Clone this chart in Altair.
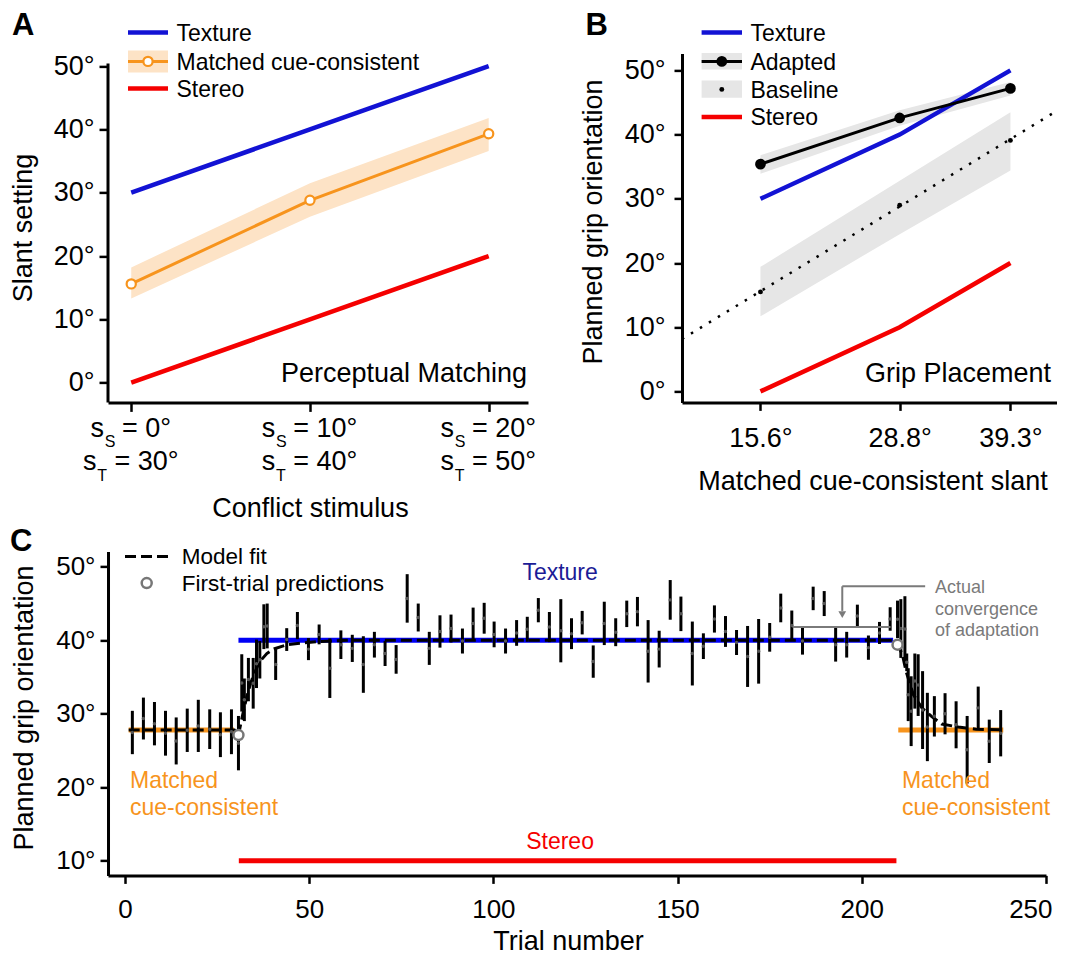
import altair as alt
import pandas as pd

FONT = "Liberation Sans"
BLUE = "#1212d4"
BLUE_C = "#0000f5"
RED = "#f50000"
ORANGE = "#f7941d"
ORANGE_BAND = "#fde3c6"
GRAY_BAND = "#e6e6e6"
NAVY = "#1c1c96"
ANNOT_GRAY = "#7a7a7a"

# ---------------- Panel A data ----------------
A_stereo = [0, 10, 20]
A_texture = [30, 40, 50]
A_matched = [15.6, 28.8, 39.3]
A_matched_lo = [13.3, 26.2, 36.6]
A_matched_hi = [18.2, 31.5, 41.8]
A_yticks = [0, 10, 20, 30, 40, 50]

# ---------------- Panel B data ----------------
B_slant = [15.6, 28.8, 39.3]
B_texture = [30, 40, 50]
B_stereo = [0, 10, 20]
B_adapted = [35.4, 42.6, 47.2]
B_adapted_lo = [33.9, 41.4, 46.1]
B_adapted_hi = [36.8, 43.8, 48.2]
B_baseline = [15.5, 29.0, 39.1]
B_baseline_lo = [11.7, 24.5, 34.4]
B_baseline_hi = [19.4, 32.8, 43.5]
B_identity = [8.16, 44.4]
B_yticks = [0, 10, 20, 30, 40, 50]

# ---------------- Panel C data ----------------
C_trial = [2.0, 5.0, 8.0, 11.0, 13.9, 16.9, 19.9, 23.0, 25.9, 28.9,
           30.8, 31.7, 32.4, 33.5, 34.8, 35.7, 36.6, 37.7, 38.6, 40.9,
           43.9, 46.8, 49.8, 52.7, 55.6, 58.6, 61.7, 64.7, 67.7, 70.6,
           73.6, 76.6, 79.6, 82.6, 85.5, 88.5, 91.6, 94.5, 97.5, 100.2,
           103.3, 106.3, 109.2, 112.2, 115.2, 118.3, 121.2, 124.1, 127.1, 130.1,
           133.2, 136.2, 139.1, 142.0, 145.0, 148.0, 150.9, 154.0, 157.0, 160.0,
           163.0, 166.0, 169.0, 172.0, 175.0, 178.0, 181.0, 183.9, 186.8, 189.8,
           192.9, 195.9, 198.8, 201.8, 204.8, 207.7,
           209.7, 210.6, 211.7, 212.2, 212.6, 213.4, 214.4, 215.3, 216.5, 217.8,
           219.7, 222.6, 225.6, 228.6, 231.6, 234.6, 237.7]
C_mean = [27.45, 29.35, 28.65, 27.35, 26.3, 27.75, 28.35, 27.9, 27.15, 27.55,
          26.0, 34.2, 31.9, 34.65, 34.15, 36.8, 37.35, 41.85, 41.95, 36.7,
          40.1, 42.0, 38.8, 40.8, 36.2, 39.4, 38.9, 36.7, 39.4, 38.2,
          37.4, 45.7, 43.1, 38.9, 41.2, 41.6, 39.9, 42.3, 43.0, 40.8,
          39.9, 41.0, 41.5, 44.1, 41.8, 41.3, 40.9, 42.4, 37.1, 42.3,
          41.1, 43.6, 43.9, 38.5, 38.8, 45.5, 43.6, 38.2, 39.2, 42.9,
          41.2, 39.7, 37.8, 38.5, 40.4, 44.4, 42.0, 39.9, 45.7, 45.0,
          39.4, 39.4, 43.3, 39.0, 41.0, 42.9,
          42.85, 41.6, 41.55, 37.0, 32.6, 30.35, 34.45, 33.9, 30.5, 28.2,
          29.65, 30.0, 28.5, 25.1, 30.8, 26.25, 27.35]
C_err = [2.95, 2.85, 2.95, 3.05, 3.2, 2.95, 3.55, 2.7, 3.05, 3.05,
         3.7, 3.9, 2.9, 2.95, 3.45, 3.3, 2.55, 3.05, 3.05, 2.1,
         1.55, 1.85, 1.5, 1.35, 4.05, 1.95, 1.85, 3.85, 1.75, 1.7,
         1.95, 3.3, 1.9, 2.25, 2.2, 1.9, 1.7, 2.15, 2.1, 1.75,
         1.7, 1.75, 1.7, 1.65, 2.05, 4.3, 2.1, 1.6, 2.2, 2.95,
         1.9, 1.8, 2.0, 4.25, 2.5, 2.7, 2.35, 4.35, 1.75, 1.85,
         2.1, 1.7, 4.15, 4.4, 1.95, 1.95, 2.05, 1.85, 1.6, 1.7,
         2.3, 1.75, 1.55, 1.65, 1.5, 1.6,
         2.55, 4.0, 4.45, 1.2, 3.6, 4.75, 3.75, 4.2, 5.3, 4.65,
         2.75, 2.8, 3.2, 4.6, 2.9, 2.95, 3.15]
C_fit_trial = [1.0, 29.7, 30.8, 32.0, 33.0, 34.0, 35.0, 36.6, 38.5, 40.3,
               44.0, 47.4, 52.0, 60.0, 208.5, 209.7, 211.0, 212.0, 214.0, 216.3,
               219.0, 221.7, 226.2, 231.0, 238.4]
C_fit_value = [27.8, 27.8, 27.1, 30.0, 32.2, 34.0, 35.4, 37.1, 38.2, 38.8,
               39.4, 39.6, 39.8, 40.0, 40.0, 39.4, 38.1, 35.8, 32.6, 30.8,
               29.6, 28.6, 28.2, 27.9, 27.8]
C_pred_trial = [30.8, 209.7]
C_pred_value = [27.1, 39.4]
C_cue = ["Matched cue-consistent", "Texture", "Stereo", "Matched cue-consistent"]
C_cue_start = [1.0, 30.8, 30.9, 209.9]
C_cue_end = [29.6, 208.5, 209.4, 238.4]
C_cue_value = [27.8, 40.0, 10.0, 27.8]
C_xticks = [0, 50, 100, 150, 200, 250]
C_yticks = [10, 20, 30, 40, 50]

one = pd.DataFrame({"k": [0]})


def ptext(txt, x, y, size, color="black", align="left", weight="normal",
          baseline="alphabetic"):
    return alt.Chart(one).mark_text(
        text=txt, align=align, baseline=baseline, fontSize=size, color=color,
        font=FONT, fontWeight=weight
    ).encode(x=alt.value(x), y=alt.value(y))


def prule(x1, x2, y, color, width, dash=None):
    kw = dict(color=color, strokeWidth=width)
    if dash:
        kw["strokeDash"] = dash
    return alt.Chart(one).mark_rule(**kw).encode(
        x=alt.value(x1), x2=alt.value(x2), y=alt.value(y))


def prect(x1, x2, y1, y2, color):
    return alt.Chart(one).mark_rect(color=color).encode(
        x=alt.value(x1), x2=alt.value(x2), y=alt.value(y1), y2=alt.value(y2))


def ppoint(x, y, size, fill, stroke, sw):
    return alt.Chart(one).mark_point(
        shape="circle", size=size, filled=True, fill=fill, stroke=stroke,
        strokeWidth=sw, opacity=1
    ).encode(x=alt.value(x), y=alt.value(y))


# ====================== Panel A ======================
WA, HA = 420, 349
dfA = pd.DataFrame({"stereo": A_stereo, "texture": A_texture,
                    "matched": A_matched, "lo": A_matched_lo, "hi": A_matched_hi})
xA_scale = alt.Scale(domain=[-1.3, 22.2], nice=False, zero=False)
xA_axis = alt.Axis(values=A_stereo, labels=False, tickSize=9, tickWidth=2.5,
                   domainWidth=3, title="Conflict stimulus", titleX=201.9, titleY=93.4)
yA_scale = alt.Scale(domain=[-3.11, 52.0], nice=False, zero=False)
yA_axis = alt.Axis(values=A_yticks, labelExpr="datum.value + '°'", domain=False,
                   tickSize=9, tickWidth=2.5, labelPadding=5, title="Slant setting",
                   titleX=-70.8, titleY=174)


def XA(f):
    return alt.X(f"{f}:Q", scale=xA_scale, axis=xA_axis)


def YA(f):
    return alt.Y(f"{f}:Q", scale=yA_scale, axis=yA_axis)


bA = alt.Chart(dfA)
A_layers = [
    bA.mark_area(color=ORANGE_BAND).encode(x=XA("stereo"), y=YA("lo"), y2="hi:Q"),
    bA.mark_line(color=BLUE, strokeWidth=4.5).encode(x=XA("stereo"), y=YA("texture")),
    bA.mark_line(color=RED, strokeWidth=4.5).encode(x=XA("stereo"), y=YA("stereo")),
    bA.mark_line(color=ORANGE, strokeWidth=3).encode(x=XA("stereo"), y=YA("matched")),
    bA.mark_point(shape="circle", size=85, filled=True, fill="white", stroke=ORANGE,
                  strokeWidth=2.2, opacity=1).encode(x=XA("stereo"), y=YA("matched")),
    alt.Chart(one).mark_rule(color="black", strokeWidth=3).encode(
        x=alt.value(0), y=alt.value(10), y2=alt.value(HA)),
]
# custom two-line tick labels with subscripts
for s_val, t_val in zip(A_stereo, A_texture):
    for val, sub, base_y, sub_y in [(s_val, "S", 384, 394), (t_val, "T", 417, 427.5)]:
        n = len(str(val))
        x0 = -48.3 + (2 - n) * 7.5
        f = bA.transform_filter(alt.datum.stereo == s_val)
        A_layers.append(f.mark_text(text="s", dx=x0, align="left", fontSize=27, font=FONT,
                                    baseline="alphabetic", color="black").encode(
            x=XA("stereo"), y=alt.value(base_y)))
        A_layers.append(f.mark_text(text=sub, dx=x0 + 14.3, align="left", fontSize=16, font=FONT,
                                    baseline="alphabetic", color="black").encode(
            x=XA("stereo"), y=alt.value(sub_y)))
        A_layers.append(f.mark_text(text=f"= {val}°", dx=x0 + 31.6, align="left", fontSize=27,
                                    font=FONT, baseline="alphabetic", color="black").encode(
            x=XA("stereo"), y=alt.value(base_y)))
# legend A
A_layers += [
    prule(20, 60, -21, BLUE, 4.5),
    ptext("Texture", 68.5, -12.8, 23),
    prect(20, 60, -3, 19, ORANGE_BAND),
    prule(20, 60, 8, ORANGE, 3),
    ppoint(40, 8, 85, "white", ORANGE, 2.2),
    ptext("Matched cue-consistent", 68.5, 16.2, 23),
    prule(20, 60, 35, RED, 4.5),
    ptext("Stereo", 68.5, 43.2, 23),
    ptext("Perceptual Matching", 419, 329, 27, align="right"),
    ptext("A", -96, -18, 31, weight="bold"),
]
chartA = alt.layer(*A_layers).properties(width=WA, height=HA)

# ====================== Panel B ======================
WB, HB = 378, 349
dfB = pd.DataFrame({"slant": B_slant, "texture": B_texture, "stereo": B_stereo,
                    "adapted": B_adapted, "alo": B_adapted_lo, "ahi": B_adapted_hi,
                    "baseline": B_baseline, "blo": B_baseline_lo, "bhi": B_baseline_hi})
dfI = pd.DataFrame({"v": B_identity})
xB_scale = alt.Scale(domain=[8.16, 44.0], nice=False, zero=False)
xB_axis = alt.Axis(values=B_slant, labelExpr="format(datum.value, '.1f') + '°'",
                   tickSize=8, tickWidth=2.5, domainWidth=3, labelPadding=15,
                   title="Matched cue-consistent slant", titleX=190.5, titleY=66)
yB_scale = alt.Scale(domain=[-1.71, 52.65], nice=False, zero=False)
yB_axis = alt.Axis(values=B_yticks, labelExpr="datum.value + '°'", tickSize=8,
                   tickWidth=2.5, domainWidth=3, labelPadding=9,
                   title="Planned grip orientation", titleX=-74.6, titleY=168)


def XB(f):
    return alt.X(f"{f}:Q", scale=xB_scale, axis=xB_axis)


def YB(f):
    return alt.Y(f"{f}:Q", scale=yB_scale, axis=yB_axis)


bB = alt.Chart(dfB)
B_layers = [
    bB.mark_area(color=GRAY_BAND).encode(x=XB("slant"), y=YB("blo"), y2="bhi:Q"),
    bB.mark_area(color=GRAY_BAND).encode(x=XB("slant"), y=YB("alo"), y2="ahi:Q"),
    alt.Chart(dfI).mark_line(color="black", strokeWidth=2.5, strokeDash=[2.5, 8]).encode(
        x=XB("v"), y=YB("v")),
    bB.mark_line(color=BLUE, strokeWidth=4.5).encode(x=XB("slant"), y=YB("texture")),
    bB.mark_line(color=RED, strokeWidth=4.5).encode(x=XB("slant"), y=YB("stereo")),
    bB.mark_line(color="black", strokeWidth=3).encode(x=XB("slant"), y=YB("adapted")),
    bB.mark_point(shape="circle", size=115, filled=True, color="black", opacity=1).encode(
        x=XB("slant"), y=YB("adapted")),
    bB.mark_point(shape="circle", size=24, filled=True, color="black", opacity=1).encode(
        x=XB("slant"), y=YB("baseline")),
    # legend B
    prule(19.6, 60, -21, BLUE, 4.5),
    ptext("Texture", 68.4, -12.8, 23),
    prect(19.6, 60, -0.3, 16, GRAY_BAND),
    prule(19.6, 60, 8, "black", 3),
    ppoint(39.8, 8, 115, "black", "black", 0),
    ptext("Adapted", 68.4, 16.2, 23),
    prect(19.6, 60, 27, 44.3, GRAY_BAND),
    ppoint(39.8, 36, 24, "black", "black", 0),
    ptext("Baseline", 68.4, 44.2, 23),
    prule(19.6, 60, 63.7, RED, 4.5),
    ptext("Stereo", 68.4, 71.9, 23),
    ptext("Grip Placement", 369, 328.7, 27, align="right"),
    ptext("B", -96.6, -18, 31, weight="bold"),
]
chartB = alt.layer(*B_layers).properties(width=WB, height=HB)

# ====================== Panel C ======================
WC, HC = 938, 324
dfC = pd.DataFrame({"trial": C_trial, "mean": C_mean, "err": C_err})
dfC["lo"] = dfC["mean"] - dfC["err"]
dfC["hi"] = dfC["mean"] + dfC["err"]
dfFit = pd.DataFrame({"t": C_fit_trial, "v": C_fit_value})
dfPred = pd.DataFrame({"t": C_pred_trial, "v": C_pred_value})
dfCue = pd.DataFrame({"cue": C_cue, "start": C_cue_start, "end": C_cue_end,
                      "value": C_cue_value})

xC_scale = alt.Scale(domain=[-4.61, 250], nice=False, zero=False)
xC_axis = alt.Axis(values=C_xticks, tickSize=8, tickWidth=2.5, domainWidth=3,
                   labelPadding=13, labelFontSize=26, labelFlush=True,
                   labelFlushOffset=6, title="Trial number", titleX=460, titleY=52.7)
yC_scale = alt.Scale(domain=[8.0, 52.1], nice=False, zero=False)
yC_axis = alt.Axis(values=C_yticks, labelExpr="datum.value + '°'", tickSize=8,
                   tickWidth=2.5, domainWidth=3, labelPadding=5, labelFontSize=26,
                   title="Planned grip orientation", titleX=-69.3, titleY=156)


def XC(f):
    return alt.X(f"{f}:Q", scale=xC_scale, axis=xC_axis)


def YC(f):
    return alt.Y(f"{f}:Q", scale=yC_scale, axis=yC_axis)


def XCd(v):
    return alt.XDatum(v, type="quantitative", scale=xC_scale, axis=xC_axis)


def YCd(v):
    return alt.YDatum(v, type="quantitative", scale=yC_scale, axis=yC_axis)


def ctext(txt, x, y, size, color, align="left", baseline="alphabetic", lh=None):
    kw = dict(text=txt, align=align, baseline=baseline, fontSize=size, color=color, font=FONT)
    if lh:
        kw["lineBreak"] = "\n"
        kw["lineHeight"] = lh
    return alt.Chart(one).mark_text(**kw).encode(x=XCd(x), y=YCd(y))


C_layers = [
    alt.Chart(dfCue).mark_rule(strokeWidth=5).encode(
        x=XC("start"), x2="end:Q", y=YC("value"),
        color=alt.Color("cue:N", scale=alt.Scale(
            domain=["Matched cue-consistent", "Texture", "Stereo"],
            range=[ORANGE, BLUE_C, RED]), legend=None)),
    alt.Chart(dfC).mark_rule(strokeWidth=3, color="black").encode(
        x=XC("trial"), y=YC("lo"), y2="hi:Q"),
    alt.Chart(dfFit).mark_line(strokeWidth=3, color="black", strokeDash=[11, 5]).encode(
        x=XC("t"), y=YC("v")),
    alt.Chart(dfC).mark_point(shape="circle", filled=True, size=12, color="#555555",
                              opacity=1).encode(x=XC("trial"), y=YC("mean")),
    alt.Chart(dfPred).mark_point(shape="circle", size=100, filled=True, fill="white",
                                 stroke="#777777", strokeWidth=2.5, opacity=1).encode(
        x=XC("t"), y=YC("v")),
    # annotations
    ctext("Texture", 118.1, 49.16, 23, NAVY, align="center", baseline="middle"),
    ctext("Stereo", 118.1, 12.55, 23, RED, align="center", baseline="middle"),
    ctext("Matched\ncue-consistent", 1.36, 19.9, 23, ORANGE, lh=26.6),
    ctext("Matched\ncue-consistent", 210.9, 19.9, 23, ORANGE, lh=26.6),
    ctext("Actual\nconvergence\nof adaptation", 219.9, 46.44, 18, ANNOT_GRAY, lh=21.7),
    alt.Chart(one).mark_rule(color=ANNOT_GRAY, strokeWidth=2).encode(
        x=XCd(194.7), x2=alt.X2Datum(217.2), y=YCd(47.35)),
    alt.Chart(one).mark_rule(color=ANNOT_GRAY, strokeWidth=2).encode(
        x=XCd(194.7), y=YCd(47.35), y2=alt.Y2Datum(44.0)),
    alt.Chart(one).mark_point(shape="triangle-down", size=60, filled=True,
                              color=ANNOT_GRAY, opacity=1).encode(
        x=XCd(194.7), y=YCd(43.5)),
    alt.Chart(one).mark_rule(color=ANNOT_GRAY, strokeWidth=2).encode(
        x=XCd(181.2), x2=alt.X2Datum(207.8), y=YCd(41.8)),
    # legend C
    prule(17, 63.7, 5, "black", 3, dash=[11, 5]),
    ptext("Model fit", 73.7, 12.9, 22.5),
    ppoint(38.7, 31.7, 100, "white", "#777777", 2.5),
    ptext("First-trial predictions", 73.7, 39.6, 22.5),
    ptext("C", -98, 0, 31, weight="bold"),
]
chartC = alt.layer(*C_layers).properties(width=WC, height=HC)

row1 = alt.hconcat(chartA, chartB, spacing=154, bounds="flush")
chart = alt.vconcat(row1, chartC, spacing=4).properties(
    padding={"left": 1, "top": 2.4, "right": -13, "bottom": 0}
).configure_view(stroke=None).configure_axis(
    labelFont=FONT, titleFont=FONT, labelFontSize=27, titleFontSize=27,
    titleFontWeight="normal", domainColor="black", tickColor="black",
    labelColor="black", titleColor="black", grid=False, domainWidth=3, tickWidth=2.5
)

chart.save("out.html", embed_options={"renderer": "svg", "actions": False})
